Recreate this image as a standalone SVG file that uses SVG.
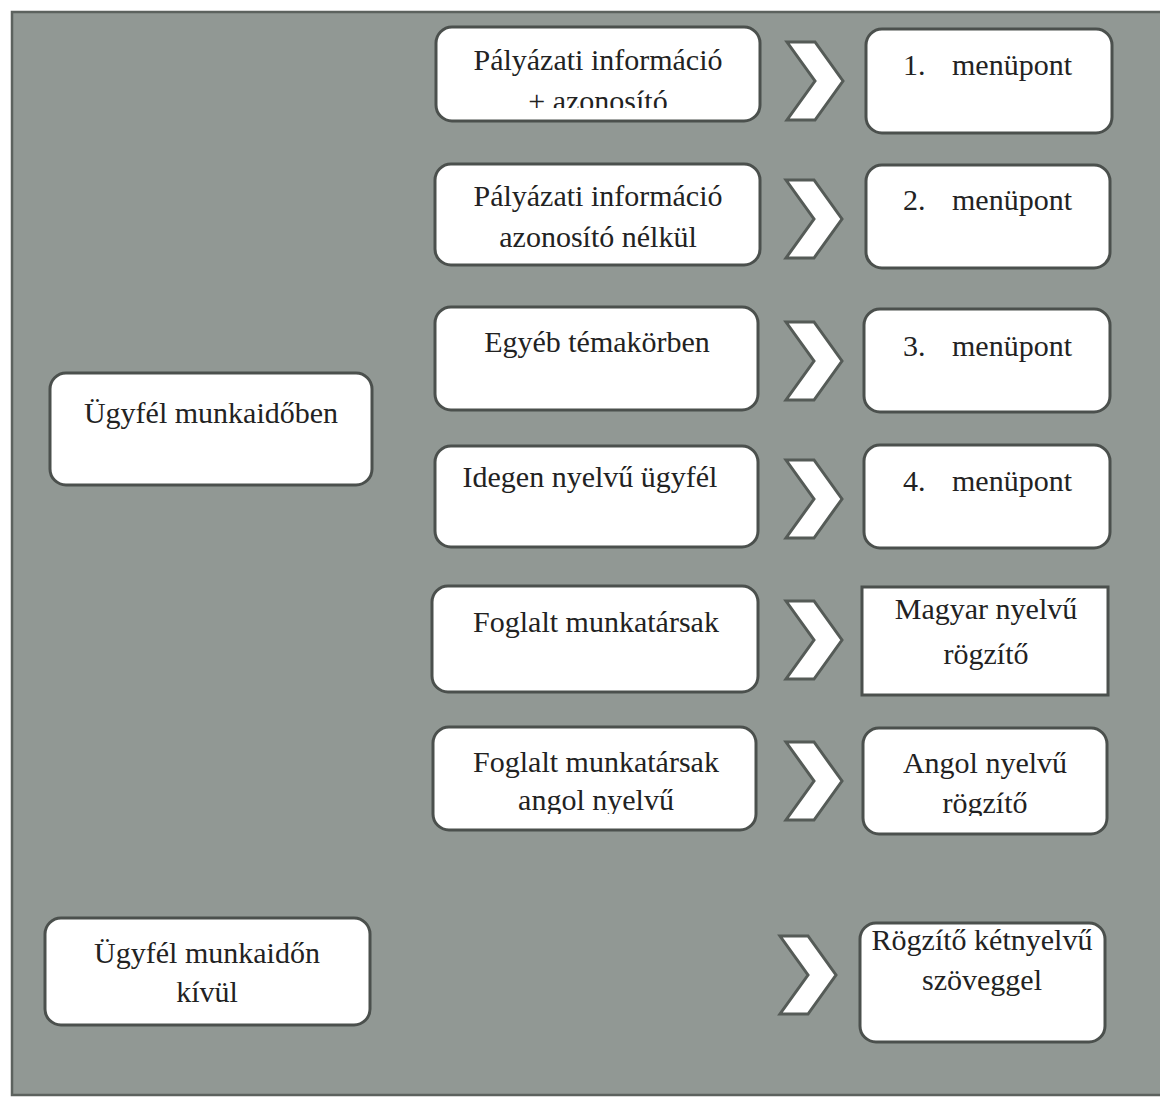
<svg xmlns="http://www.w3.org/2000/svg" width="1160" height="1097" viewBox="0 0 1160 1097">
<style>
.bg{fill:#919894;stroke:#5c625e;stroke-width:2.5}
.box{fill:#ffffff;stroke:#4b504d;stroke-width:3}
.chev{fill:#ffffff;stroke:#555b57;stroke-width:3;stroke-linejoin:miter}
.t{font-family:"Liberation Serif","Times New Roman",serif;font-size:30px;fill:#222222}
.c{text-anchor:middle}
</style>
<defs>
<clipPath id="clip1"><rect x="436" y="27" width="324" height="81"/></clipPath>
<clipPath id="clip6"><rect x="433" y="727" width="323" height="87"/></clipPath>
<clipPath id="clipA"><rect x="863" y="728" width="244" height="88"/></clipPath>
<path id="chevron" d="M0,0 L28,0 L56,39 L28,78 L0,78 L28,39 Z"/>
</defs>
<rect class="bg" x="12" y="12" width="1160" height="1083"/>

<g id="left-1">
<rect class="box" x="50" y="373" width="322" height="112" rx="16"/>
<text class="t c" x="211" y="423">Ügyfél munkaidőben</text>
</g>
<g id="left-2">
<rect class="box" x="45" y="918" width="325" height="107" rx="16"/>
<text class="t c" x="207" y="963">Ügyfél munkaidőn</text>
<text class="t c" x="207" y="1002">kívül</text>
</g>

<g id="mid-1">
<rect class="box" x="436" y="27" width="324" height="94" rx="16"/>
<g clip-path="url(#clip1)">
<text class="t c" x="598" y="70">Pályázati információ</text>
<text class="t c" x="598" y="111">+ azonosító</text>
</g>
</g>
<g id="mid-2">
<rect class="box" x="435" y="164" width="325" height="101" rx="16"/>
<text class="t c" x="598" y="206">Pályázati információ</text>
<text class="t c" x="598" y="247">azonosító nélkül</text>
</g>
<g id="mid-3">
<rect class="box" x="435" y="307" width="323" height="103" rx="16"/>
<text class="t c" x="597" y="352">Egyéb témakörben</text>
</g>
<g id="mid-4">
<rect class="box" x="435" y="446" width="323" height="101" rx="16"/>
<text class="t c" x="590" y="487">Idegen nyelvű ügyfél</text>
</g>
<g id="mid-5">
<rect class="box" x="432" y="586" width="326" height="106" rx="16"/>
<text class="t c" x="596" y="632">Foglalt munkatársak</text>
</g>
<g id="mid-6">
<rect class="box" x="433" y="727" width="323" height="103" rx="16"/>
<g clip-path="url(#clip6)">
<text class="t c" x="596" y="772">Foglalt munkatársak</text>
<text class="t c" x="596" y="810">angol nyelvű</text>
</g>
</g>

<g id="right-1">
<rect class="box" x="866" y="29" width="246" height="104" rx="16"/>
<text class="t" y="75"><tspan x="903">1.</tspan><tspan x="952">menüpont</tspan></text>
</g>
<g id="right-2">
<rect class="box" x="866" y="165" width="244" height="103" rx="16"/>
<text class="t" y="210"><tspan x="903">2.</tspan><tspan x="952">menüpont</tspan></text>
</g>
<g id="right-3">
<rect class="box" x="864" y="309" width="246" height="103" rx="16"/>
<text class="t" y="356"><tspan x="903">3.</tspan><tspan x="952">menüpont</tspan></text>
</g>
<g id="right-4">
<rect class="box" x="864" y="445" width="246" height="103" rx="16"/>
<text class="t" y="491"><tspan x="903">4.</tspan><tspan x="952">menüpont</tspan></text>
</g>
<g id="right-5">
<rect class="box" x="862" y="587" width="246" height="108"/>
<text class="t c" x="986" y="619">Magyar nyelvű</text>
<text class="t c" x="986" y="664">rögzítő</text>
</g>
<g id="right-6">
<rect class="box" x="863" y="728" width="244" height="106" rx="16"/>
<g clip-path="url(#clipA)">
<text class="t c" x="985" y="773">Angol nyelvű</text>
<text class="t c" x="985" y="813">rögzítő</text>
</g>
</g>
<g id="right-7">
<rect class="box" x="860" y="923" width="245" height="119" rx="16"/>
<text class="t c" x="982" y="950">Rögzítő kétnyelvű</text>
<text class="t c" x="982" y="990">szöveggel</text>
</g>

<g id="connectors">
<use href="#chevron" class="chev" x="787" y="42"/>
<use href="#chevron" class="chev" x="786" y="180"/>
<use href="#chevron" class="chev" x="786" y="322"/>
<use href="#chevron" class="chev" x="786" y="460"/>
<use href="#chevron" class="chev" x="786" y="601"/>
<use href="#chevron" class="chev" x="786" y="742"/>
<use href="#chevron" class="chev" x="780" y="936"/>
</g>
</svg>
